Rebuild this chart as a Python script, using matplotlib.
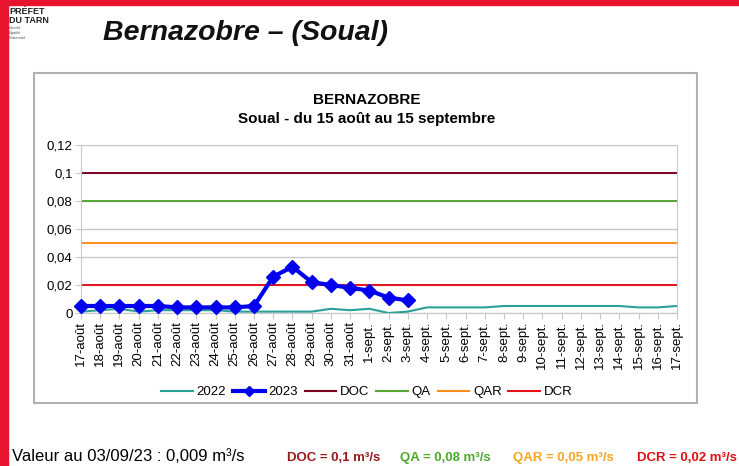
import matplotlib.pyplot as plt
from matplotlib.patches import Rectangle
from matplotlib.lines import Line2D

# jours du 17 août au 17 sept.
jours = ['17-août', '18-août', '19-août', '20-août', '21-août', '22-août', '23-août',
         '24-août', '25-août', '26-août', '27-août', '28-août', '29-août', '30-août',
         '31-août', '1-sept.', '2-sept.', '3-sept.', '4-sept.', '5-sept.', '6-sept.',
         '7-sept.', '8-sept.', '9-sept.', '10-sept.', '11-sept.', '12-sept.', '13-sept.',
         '14-sept.', '15-sept.', '16-sept.', '17-sept.']

debit2022 = [0.001, 0.002, 0.003, 0.001, 0.002, 0.002, 0.002, 0.002, 0.001, 0.001,
             0.001, 0.001, 0.001, 0.003, 0.002, 0.003, 0.0, 0.001, 0.004, 0.004,
             0.004, 0.004, 0.005, 0.005, 0.005, 0.005, 0.005, 0.005, 0.005, 0.004,
             0.004, 0.005]
debit2023 = [0.005, 0.005, 0.005, 0.005, 0.005, 0.004, 0.004, 0.004, 0.004, 0.005,
             0.026, 0.033, 0.022, 0.020, 0.018, 0.016, 0.011, 0.009]

seuils = {'DOC': 0.1, 'QA': 0.08, 'QAR': 0.05, 'DCR': 0.02}
couleurs = {'DOC': '#7e0021', 'QA': '#57a532', 'QAR': '#ff8c1a', 'DCR': '#e8101a'}

fig = plt.figure(figsize=(7.39, 4.66), dpi=100)
plt.rcParams['font.family'] = ['Liberation Sans', 'DejaVu Sans']

# bandeau rouge
fig.patches.append(Rectangle((0, 0), 8 / 739, 1, transform=fig.transFigure,
                             color='#e8132d', zorder=0))
fig.patches.append(Rectangle((0, 1 - 5 / 466), 1, 5 / 466, transform=fig.transFigure,
                             color='#e8132d', zorder=0))
fig.text(9 / 739, 1 - 14 / 466, 'PRÉFET', fontsize=6.5, fontweight='bold', color='#222222')
fig.text(9 / 739, 1 - 23 / 466, 'DU TARN', fontsize=6.5, fontweight='bold', color='#222222')
fig.text(9 / 739, 1 - 29 / 466, 'Liberté', fontsize=3, style='italic', color='#555555')
fig.text(9 / 739, 1 - 34 / 466, 'Égalité', fontsize=3, style='italic', color='#555555')
fig.text(9 / 739, 1 - 39 / 466, 'Fraternité', fontsize=3, style='italic', color='#555555')

fig.text(103 / 739, 1 - 40 / 466, 'Bernazobre – (Soual)', fontsize=20.5,
         fontweight='bold', style='italic', color='#111111')

# cadre du graphique
fig.patches.append(Rectangle((34 / 739, 1 - 403 / 466), 663 / 739, 330 / 466,
                             transform=fig.transFigure, fill=False,
                             edgecolor='#b0b0b0', linewidth=1.5))

ax = fig.add_axes([81 / 739, 1 - 313 / 466, 596 / 739, 168 / 466])
x = list(range(len(jours)))

ax.plot(x, debit2022, color='#2aa198', linewidth=1.5, zorder=3)
ax.plot(x[:len(debit2023)], debit2023, color='#0000ee', linewidth=3,
        marker='D', markersize=7, zorder=4, clip_on=False)
for nom, v in seuils.items():
    ax.axhline(v, color=couleurs[nom], linewidth=1.4, zorder=2)

ax.set_xlim(0, len(jours) - 1)
ax.set_ylim(0, 0.12)
ax.set_xticks(x)
ax.set_xticklabels(jours, rotation=90, fontsize=9.5)
ax.set_yticks([0, 0.02, 0.04, 0.06, 0.08, 0.1, 0.12])
ax.set_yticklabels(['0', '0,02', '0,04', '0,06', '0,08', '0,1', '0,12'], fontsize=9.5)
ax.grid(axis='y', color='#c8c8c8', linewidth=1)
ax.set_axisbelow(True)
for s in ax.spines.values():
    s.set_color('#c8c8c8')
ax.tick_params(color='#c8c8c8', length=4, pad=2)

fig.text(367 / 739, 1 - 104 / 466, 'BERNAZOBRE', ha='center', fontsize=11, fontweight='bold')
fig.text(367 / 739, 1 - 123 / 466, 'Soual - du 15 août au 15 septembre', ha='center',
         fontsize=11, fontweight='bold')

handles = [Line2D([], [], color='#2aa198', linewidth=1.5),
           Line2D([], [], color='#0000ee', linewidth=3, marker='D', markersize=5),
           Line2D([], [], color=couleurs['DOC'], linewidth=1.5),
           Line2D([], [], color=couleurs['QA'], linewidth=1.5),
           Line2D([], [], color=couleurs['QAR'], linewidth=1.5),
           Line2D([], [], color=couleurs['DCR'], linewidth=1.5)]
fig.legend(handles, ['2022', '2023', 'DOC', 'QA', 'QAR', 'DCR'], ncol=6, frameon=False,
           loc='center', bbox_to_anchor=(367 / 739, 1 - 392 / 466), fontsize=9.5,
           handlelength=2.4, columnspacing=0.5, handletextpad=0.3)

# texte en bas
fig.text(12 / 739, 1 - 461 / 466, 'Valeur au 03/09/23 : 0,009 m³/s', fontsize=12)
bas = [('DOC = 0,1 m³/s', '#9a1a1a', 287), ('QA = 0,08 m³/s', '#4ea72e', 400),
       ('QAR = 0,05 m³/s', '#f5a623', 513), ('DCR = 0,02 m³/s', '#e01010', 637)]
for txt, c, px in bas:
    fig.text(px / 739, 1 - 461 / 466, txt, fontsize=9.5, fontweight='bold', color=c)

fig.savefig('out.png', dpi=100)
